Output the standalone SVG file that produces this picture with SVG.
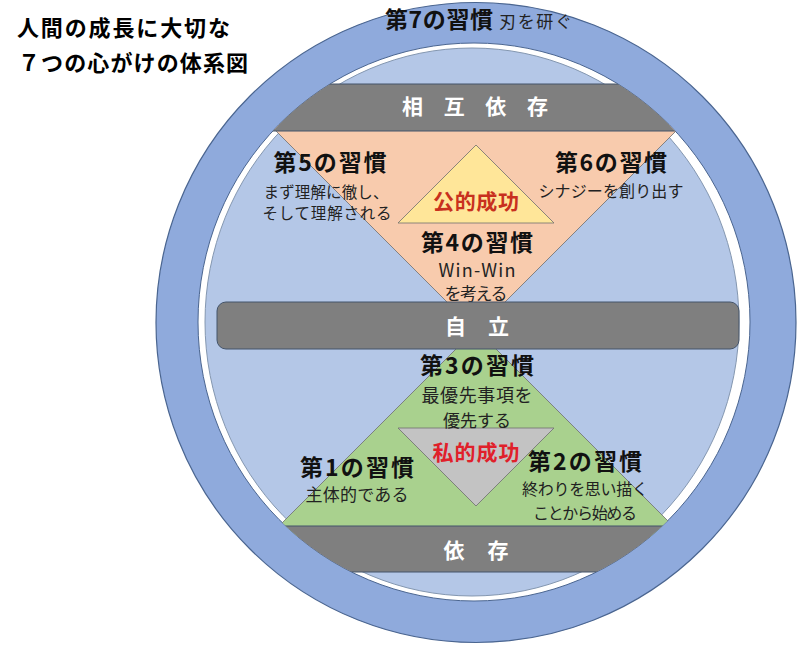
<svg xmlns="http://www.w3.org/2000/svg" width="800" height="645" viewBox="0 0 800 645">
<style>
text{font-family:"Noto Sans CJK JP","Noto Sans",sans-serif;}
.ttl{font-size:22px;font-weight:700;fill:#000;}
.h{font-size:23px;font-weight:700;fill:#111;text-anchor:middle;}
.b{font-size:16px;font-weight:400;fill:#222;text-anchor:middle;}
.bar{fill:#7F7F7F;stroke:#44546A;stroke-width:1;}
.bl{font-size:21px;font-weight:700;fill:#fff;text-anchor:middle;}
.red{font-size:21px;font-weight:700;text-anchor:middle;}
.tri{stroke:#6F6F6F;stroke-width:0.8;}
</style>
<defs>
<clipPath id="inner"><ellipse cx="474" cy="322" rx="276" ry="279"/></clipPath>
</defs>
<rect width="800" height="645" fill="#fff"/>
<g id="title">
<text class="ttl" x="17" y="36" textLength="213" lengthAdjust="spacing">人間の成長に大切な</text>
<text class="ttl" x="18" y="71" textLength="230" lengthAdjust="spacing">７つの心がけの体系図</text>
</g>
<g id="habit7">
<circle cx="476" cy="322.5" r="320" fill="#8FAADC" stroke="#4A6590" stroke-width="1.2"/>
<ellipse cx="474" cy="322" rx="276" ry="279" fill="#fff" stroke="#4A6590" stroke-width="1"/>
<ellipse cx="472" cy="322" rx="267" ry="274" fill="#B4C7E7" stroke="#8497B0" stroke-width="1"/>
<text class="h" x="439" y="28" textLength="108" lengthAdjust="spacing">第7の習慣</text>
<text x="499" y="28" style="font-size:17px;fill:#222" textLength="73" lengthAdjust="spacing">刃を研ぐ</text>
</g>
<g id="public" clip-path="url(#inner)">
<polygon class="tri" points="270,125 682,125 476,331" fill="#F8CBAD"/>
</g>
<g id="private" clip-path="url(#inner)">
<polygon class="tri" points="476,329 268,537 684,537" fill="#A9D18E"/>
</g>
<g id="public-success">
<polygon class="tri" points="476,145 398,223 554,223" fill="#FFE699"/>
<text class="red" x="476" y="209" fill="#C8301E" textLength="86" lengthAdjust="spacing">公的成功</text>
</g>
<g id="private-success">
<polygon class="tri" points="398,428 554,428 476,506" fill="#C3C3C3"/>
<text class="red" x="476" y="460" fill="#E0202A" textLength="87" lengthAdjust="spacing">私的成功</text>
</g>
<g id="habit4">
<text class="h" x="477" y="251" textLength="112" lengthAdjust="spacing">第4の習慣</text>
<text class="b" x="477" y="277" style="font-size:18px" textLength="77" lengthAdjust="spacing">Win-Win</text>
<text class="b" x="476" y="300" style="font-size:17px" textLength="63" lengthAdjust="spacing">を考える</text>
</g>
<g id="interdependence">
<rect class="bar" x="190" y="84" width="580" height="47" clip-path="url(#inner)"/>
<text class="bl" x="475" y="114" textLength="146" lengthAdjust="spacing">相互依存</text>
</g>
<g id="independence">
<rect class="bar" x="217" y="302" width="522" height="47" rx="9"/>
<text class="bl" x="477" y="334" textLength="64" lengthAdjust="spacing">自立</text>
</g>
<g id="dependence">
<rect class="bar" x="190" y="526" width="580" height="46" clip-path="url(#inner)"/>
<text class="bl" x="476" y="558" textLength="65" lengthAdjust="spacing">依存</text>
</g>
<g id="habit5">
<text class="h" x="330" y="171" textLength="113" lengthAdjust="spacing">第5の習慣</text>
<text class="b" x="326" y="198" style="font-size:15.5px" textLength="125" lengthAdjust="spacing">まず理解に徹し、</text>
<text class="b" x="327" y="219" style="font-size:15.5px" textLength="129" lengthAdjust="spacing">そして理解される</text>
</g>
<g id="habit6">
<text class="h" x="611" y="171" textLength="112" lengthAdjust="spacing">第6の習慣</text>
<text class="b" x="611" y="197" textLength="145" lengthAdjust="spacing">シナジーを創り出す</text>
</g>
<g id="habit3">
<text class="h" x="477" y="374" textLength="114" lengthAdjust="spacing">第3の習慣</text>
<text class="b" x="477" y="402" style="font-size:18px" textLength="111" lengthAdjust="spacing">最優先事項を</text>
<text class="b" x="477" y="427" style="font-size:17px" textLength="68" lengthAdjust="spacing">優先する</text>
</g>
<g id="habit1">
<text class="h" x="357" y="476" textLength="114" lengthAdjust="spacing">第1の習慣</text>
<text class="b" x="357" y="501" style="font-size:17px" textLength="103" lengthAdjust="spacing">主体的である</text>
</g>
<g id="habit2">
<text class="h" x="585" y="470" textLength="114" lengthAdjust="spacing">第2の習慣</text>
<text class="b" x="585" y="495" textLength="126" lengthAdjust="spacing">終わりを思い描く</text>
<text class="b" x="585" y="519" textLength="104" lengthAdjust="spacing">ことから始める</text>
</g>
<g id="connectors"></g>
</svg>
